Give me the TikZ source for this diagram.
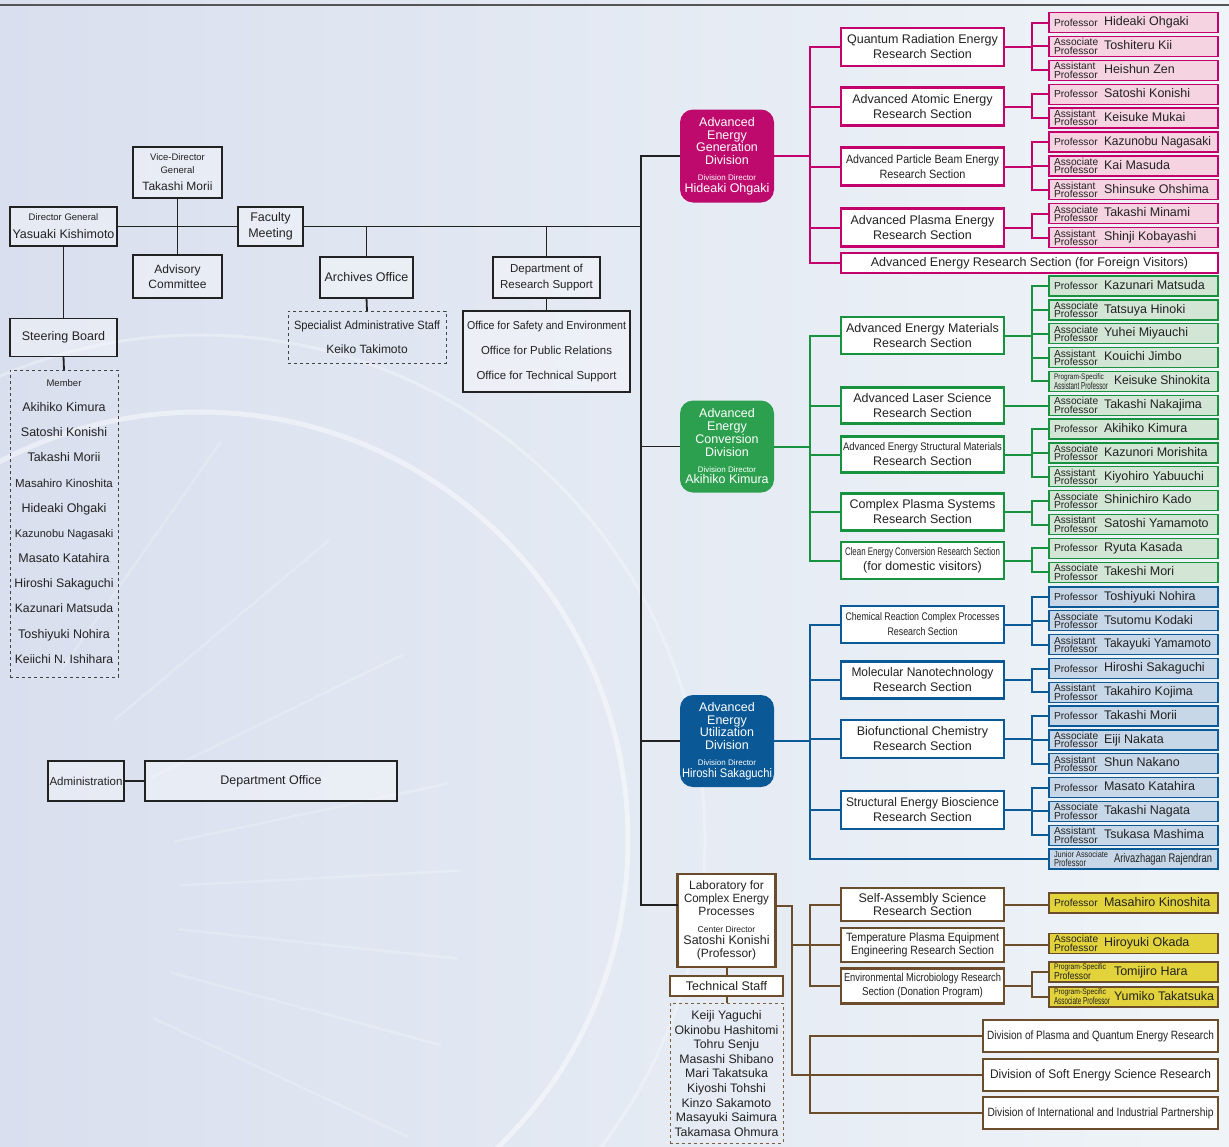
\documentclass[tikz,border=0pt]{standalone}
\usepackage{fontspec}
\setmainfont{Liberation Sans}
\usepackage{graphicx}
\usetikzlibrary{calc}
\newcommand\myfs[2]{\fontsize{#1}{#2}\selectfont}
\newcommand\sq[2]{\resizebox{#1pt}{\height}{#2}}
\definecolor{ink}{HTML}{222222}
\definecolor{mag}{HTML}{C4006C}
\definecolor{magdiv}{HTML}{BE0A6C}
\definecolor{magfill}{HTML}{F5D3E1}
\definecolor{grn}{HTML}{179340}
\definecolor{grndiv}{HTML}{2CA04E}
\definecolor{grnfill}{HTML}{D3E6D6}
\definecolor{blu}{HTML}{0B5A98}
\definecolor{bludiv}{HTML}{0A5896}
\definecolor{blufill}{HTML}{C8D7E8}
\definecolor{brn}{HTML}{6B4D2C}
\definecolor{yel}{HTML}{E2D23C}
\definecolor{bgl}{HTML}{D9DFEE}
\definecolor{bgm}{HTML}{E2E6F2}
\definecolor{bgr}{HTML}{EFF4F8}
\definecolor{topline}{HTML}{555555}
\newcommand\tProf{Professor}
\newcommand\tAssoc{Associate\\Professor}
\newcommand\tAsst{Assistant\\Professor}
\newcommand\tPSAsst{\myfs{8}{8}\sq{50}{Program-Specific}\\\sq{54}{Assistant Professor}}
\newcommand\tPSProf{\myfs{8}{8.5}\sq{52}{Program-Specific}\\\sq{37}{Professor}}
\newcommand\tPSAssoc{\myfs{8}{8.5}\sq{52}{Program-Specific}\\\sq{56}{Associate Professor}}
\newcommand\tJr{\myfs{8.5}{8.5}\sq{54}{Junior Associate}\\\sq{32}{Professor}}
\newcommand\pers[6]{%
  \node[#3] (#1) at (1049,#2) {};
  \node[ttl] (#1t) at (1054,#2) {#4};
  \node[nm] (#1n) at (#6,#2) {#5};}
\tikzset{
  every node/.style={inner sep=0pt, outer sep=0pt},
  lbox/.style={draw=ink, line width=1.8pt, fill=white, fill opacity=0.35, text opacity=1, align=center, text=ink, font=\myfs{12.5}{15}},
  dbox/.style={draw=ink!85, line width=1pt, dashed, align=center, text=ink},
  kln/.style={draw=ink, line width=1.8pt},
  mln/.style={draw=mag, line width=2pt},
  gln/.style={draw=grn, line width=2pt},
  bln/.style={draw=blu, line width=2pt},
  brln/.style={draw=brn, line width=2pt},
  sec/.style={draw=#1, line width=2.2pt, fill=white, minimum width=163pt, minimum height=37pt, align=center, text=ink, font=\myfs{12.5}{15}},
  divn/.style={fill=#1, rounded corners=13pt, minimum width=94pt, minimum height=92pt, align=center, text=white, font=\myfs{12.5}{12.8}},
  per/.style 2 args={draw=#1, fill=#2, line width=1.3pt, minimum width=169pt, minimum height=20pt, anchor=west},
  pm/.style={per={mag}{magfill}},
  pg/.style={per={grn}{grnfill}},
  pbl/.style={per={blu}{blufill}},
  pye/.style={per={brn}{yel}},
  ttl/.style={anchor=west, align=left, font=\myfs{10.2}{8.4}, text=ink},
  nm/.style={anchor=west, font=\myfs{12.5}{14}, text=ink, text height=9pt, text depth=2.6pt},
}
\begin{document}
\begin{tikzpicture}[x=1pt,y=-1pt]
\useasboundingbox (0,0) rectangle (1229,1146);
% background
\shade[left color=bgl, middle color=bgm, right color=bgr] (0,0) rectangle (1229,1146);
\begin{scope}
  \clip (0,0) rectangle (1229,1146);
  \coordinate (wc) at (200,840);
  \coordinate (sc) at (-100,900);
  \draw[white, opacity=0.45, line width=5pt] (wc) circle (428pt);
  \draw[white, opacity=0.3, line width=3pt] (wc) circle (505pt);
  \foreach \a in {-55,-40,-26,-12,-3,6,15,25}
    \draw[white, opacity=0.2, line width=2.5pt] ($(sc)+({280*cos(\a)},{280*sin(\a)})$) -- ($(sc)+({560*cos(\a)},{560*sin(\a)})$);
\end{scope}
\draw[line width=2pt, draw=topline] (0,5) -- (1229,5);

% ---------- left part ----------
\node[lbox, font=\myfs{9.5}{13}, minimum width=89pt, minimum height=51pt] (vdg) at (177.5,172.5) {Vice-Director\\General\\[4pt]{\myfs{12}{14}Takashi Morii}};
\node[lbox, font=\myfs{9.5}{13}, minimum width=107pt, minimum height=39pt] (dg) at (63.5,226.5) {Director General\\[5pt]{\myfs{12.5}{14}Yasuaki Kishimoto}};
\node[lbox, font=\myfs{12}{15}, minimum width=89pt, minimum height=43pt] (adv) at (177.5,276.5) {Advisory\\Committee};
\node[lbox, font=\myfs{12.5}{16}, minimum width=65pt, minimum height=39pt] (fm) at (270.5,226.5) {Faculty\\Meeting};
\node[lbox, minimum width=93pt, minimum height=41pt] (arch) at (366.5,277.5) {Archives Office};
\node[lbox, font=\myfs{11.5}{16}, minimum width=107pt, minimum height=41pt] (drs) at (546.5,277.5) {Department of\\Research Support};
\node[dbox, font=\myfs{12}{24}, minimum width=158pt, minimum height=52pt] (sasd) at (367,337) {\sq{146}{Specialist Administrative Staff}\\Keiko Takimoto};
\node[lbox, font=\myfs{11.5}{25}, minimum width=167pt, minimum height=81pt] (off) at (546.5,351.5) {\sq{159}{Office for Safety and Environment}\\\sq{131}{Office for Public Relations}\\\sq{140}{Office for Technical Support}};
\node[lbox, minimum width=107pt, minimum height=38pt] (sb) at (63.5,337.5) {Steering Board};
\node[dbox, minimum width=108pt, minimum height=307pt] (mem) at (64,523.5) {};
\node[anchor=base, font=\myfs{9.5}{12}, text=ink] (memt) at (64,386.4) {Member};
\foreach \y/\s/\n in {407/12.5/Akihiko Kimura, 432/12.5/Satoshi Konishi, 457/12.5/Takashi Morii, 483/11.5/Masahiro Kinoshita, 508/12.5/Hideaki Ohgaki, 533/11/Kazunobu Nagasaki, 558/12.5/Masato Katahira, 583/12.3/Hiroshi Sakaguchi, 608/12.2/Kazunari Matsuda, 634/12.5/Toshiyuki Nohira, 659/12.2/Keiichi N. Ishihara}
  \node[anchor=base, font=\myfs{\s}{14}, text=ink] (m\y) at (64,\y+4.6) {\n};
\node[lbox, font=\myfs{11.5}{14}, minimum width=76pt, minimum height=40pt] (admin) at (86,781) {Administration};
\node[lbox, font=\myfs{12.5}{14}, minimum width=252pt, minimum height=40pt] (dept) at (271,781) {Department Office};

% ---------- divisions ----------
\node[divn=magdiv, minimum height=93pt] (gen) at (727,156) {Advanced\\Energy\\Generation\\Division\\[3pt]{\myfs{8}{9}Division Director}\\[-1pt]Hideaki Ohgaki};
\node[divn=grndiv] (conv) at (727,446.5) {Advanced\\Energy\\Conversion\\Division\\[3pt]{\myfs{8}{9}Division Director}\\[-1pt]Akihiko Kimura};
\node[divn=bludiv] (util) at (727,741) {Advanced\\Energy\\Utilization\\Division\\[3pt]{\myfs{8}{9}Division Director}\\[-1pt]\sq{90}{Hiroshi Sakaguchi}};
\node[draw=brn, line width=2.2pt, fill=white, minimum width=98pt, minimum height=93pt, align=center, text=ink, font=\myfs{12}{13}] (lab) at (726.5,920.5) {Laboratory for\\\sq{85}{Complex Energy}\\Processes\\[4pt]{\myfs{8.5}{9}Center Director}\\[-1.5pt]{\myfs{12.5}{13}Satoshi Konishi}\\[0.5pt](Professor)};
\node[draw=brn, line width=2pt, fill=white, minimum width=113pt, minimum height=20pt, text=ink, font=\myfs{12.5}{14}] (ts) at (726.5,986) {Technical Staff};
\node[draw=brn!90, line width=1pt, dashed, minimum width=113pt, minimum height=140pt] (tsd) at (726.5,1073) {};
\node[anchor=north, align=center, font=\myfs{12.3}{14.6}, text=ink] (tsn) at (726.5,1010.5) {Keiji Yaguchi\\Okinobu Hashitomi\\Tohru Senju\\Masashi Shibano\\Mari Takatsuka\\Kiyoshi Tohshi\\Kinzo Sakamoto\\Masayuki Saimura\\Takamasa Ohmura};

% ---------- sections ----------
\node[sec=mag, minimum height=38pt] (qrs) at (922.5,47) {Quantum Radiation Energy\\Research Section};
\node[sec=mag, minimum height=38pt] (aae) at (922.5,106.5) {Advanced Atomic Energy\\Research Section};
\node[sec=mag, minimum height=38pt, font=\myfs{12}{15}] (apb) at (922.5,166.5) {\sq{153}{Advanced Particle Beam Energy}\\\sq{86}{Research Section}};
\node[sec=mag, minimum height=38pt] (ape) at (922.5,227.5) {Advanced Plasma Energy\\Research Section};
\node[sec=mag, minimum width=377pt, minimum height=20pt] (afv) at (1029.5,263) {Advanced Energy Research Section (for Foreign Visitors)};

\node[sec=grn] (aem) at (922.5,335.5) {Advanced Energy Materials\\Research Section};
\node[sec=grn, minimum height=36pt] (als) at (922.5,405.5) {Advanced Laser Science\\Research Section};
\node[sec=grn, minimum height=36pt] (aes) at (922.5,454.5) {{\myfs{11}{15}\sq{159}{Advanced Energy Structural Materials}}\\Research Section};
\node[sec=grn] (cps) at (922.5,512) {Complex Plasma Systems\\Research Section};
\node[sec=grn] (cec) at (922.5,560.5) {{\myfs{11}{15}\sq{155}{Clean Energy Conversion Research Section}}\\(for domestic visitors)};

\node[sec=blu, font=\myfs{11}{15}] (crc) at (922.5,624.5) {\sq{154}{Chemical Reaction Complex Processes}\\\sq{70}{Research Section}};
\node[sec=blu] (mnt) at (922.5,680) {\sq{142}{Molecular Nanotechnology}\\Research Section};
\node[sec=blu, minimum height=38pt] (bfc) at (922.5,739) {Biofunctional Chemistry\\Research Section};
\node[sec=blu, minimum height=38pt] (seb) at (922.5,810) {\sq{153}{Structural Energy Bioscience}\\Research Section};

\node[sec=brn, minimum height=33pt, font=\myfs{12.5}{13}] (sa) at (922.5,904.5) {Self-Assembly Science\\Research Section};
\node[sec=brn, minimum height=34pt, font=\myfs{12}{13}] (tpe) at (922.5,945) {\sq{153}{Temperature Plasma Equipment}\\\sq{143}{Engineering Research Section}};
\node[sec=brn, minimum height=35pt, font=\myfs{11.5}{14}] (emr) at (922.5,986) {\sq{157}{Environmental Microbiology Research}\\\sq{121}{Section (Donation Program)}};
\node[sec=brn, minimum width=235pt, minimum height=32pt, font=\myfs{12}{14}] (pqe) at (1100.5,1036) {\sq{227}{Division of Plasma and Quantum Energy Research}};
\node[sec=brn, minimum width=235pt, minimum height=32pt] (sof) at (1100.5,1075) {\sq{221}{Division of Soft Energy Science Research}};
\node[sec=brn, minimum width=235pt, minimum height=32pt, font=\myfs{12}{14}] (iip) at (1100.5,1113) {\sq{226}{Division of International and Industrial Partnership}};

% ---------- people ----------
\pers{ohg}{22.5}{pm}{\tProf}{Hideaki Ohgaki}{1104}
\pers{kii}{46.4}{pm}{\tAssoc}{Toshiteru Kii}{1104}
\pers{zen}{70.3}{pm}{\tAsst}{Heishun Zen}{1104}
\pers{kon}{94.2}{pm}{\tProf}{Satoshi Konishi}{1104}
\pers{muk}{118.1}{pm}{\tAsst}{Keisuke Mukai}{1104}
\pers{nag}{142}{pm}{\tProf}{\sq{107}{Kazunobu Nagasaki}}{1104}
\pers{mas}{165.9}{pm}{\tAssoc}{Kai Masuda}{1104}
\pers{ohs}{189.8}{pm}{\tAsst}{Shinsuke Ohshima}{1104}
\pers{mnm}{213.7}{pm}{\tAssoc}{Takashi Minami}{1104}
\pers{kob}{237.6}{pm}{\tAsst}{Shinji Kobayashi}{1104}

\pers{mat}{286}{pg}{\tProf}{Kazunari Matsuda}{1104}
\pers{hin}{309.85}{pg}{\tAssoc}{Tatsuya Hinoki}{1104}
\pers{miy}{333.7}{pg}{\tAssoc}{Yuhei Miyauchi}{1104}
\pers{jim}{357.55}{pg}{\tAsst}{Kouichi Jimbo}{1104}
\pers{shi}{381.4}{pg}{\tPSAsst}{\sq{96}{Keisuke Shinokita}}{1114}
\pers{nkj}{405.25}{pg}{\tAssoc}{Takashi Nakajima}{1104}
\pers{kim}{429.1}{pg}{\tProf}{Akihiko Kimura}{1104}
\pers{mor}{452.95}{pg}{\tAssoc}{Kazunori Morishita}{1104}
\pers{yab}{476.8}{pg}{\tAsst}{Kiyohiro Yabuuchi}{1104}
\pers{kad}{500.65}{pg}{\tAssoc}{Shinichiro Kado}{1104}
\pers{yam}{524.5}{pg}{\tAsst}{Satoshi Yamamoto}{1104}
\pers{kas}{548.35}{pg}{\tProf}{Ryuta Kasada}{1104}
\pers{tmo}{572.2}{pg}{\tAssoc}{Takeshi Mori}{1104}

\pers{noh}{597}{pbl}{\tProf}{Toshiyuki Nohira}{1104}
\pers{kod}{620.8}{pbl}{\tAssoc}{Tsutomu Kodaki}{1104}
\pers{tya}{644.6}{pbl}{\tAsst}{\sq{107}{Takayuki Yamamoto}}{1104}
\pers{sak}{668.5}{pbl}{\tProf}{Hiroshi Sakaguchi}{1104}
\pers{koj}{692.3}{pbl}{\tAsst}{Takahiro Kojima}{1104}
\pers{tmr}{716.1}{pbl}{\tProf}{Takashi Morii}{1104}
\pers{nkt}{739.9}{pbl}{\tAssoc}{Eiji Nakata}{1104}
\pers{nkn}{763.7}{pbl}{\tAsst}{Shun Nakano}{1104}
\pers{kat}{787.6}{pbl}{\tProf}{Masato Katahira}{1104}
\pers{ngt}{811.4}{pbl}{\tAssoc}{Takashi Nagata}{1104}
\pers{msh}{835.2}{pbl}{\tAsst}{Tsukasa Mashima}{1104}
\pers{raj}{859}{pbl}{\tJr}{\sq{98}{Arivazhagan Rajendran}}{1114}

\pers{kin}{903}{pye}{\tProf}{Masahiro Kinoshita}{1104}
\pers{oka}{943.5}{pye}{\tAssoc}{Hiroyuki Okada}{1104}
\pers{har}{972}{pye}{\tPSProf}{Tomijiro Hara}{1114}
\pers{tak}{997}{pye}{\tPSAssoc}{\sq{100}{Yumiko Takatsuka}}{1114}

% ---------- coordinates for bars ----------
\coordinate (tk) at (641,0);
\coordinate (bm) at (810,0);
\coordinate (bp) at (1032,0);
\coordinate (b2) at (792,0);
\coordinate (labin) at ($(lab.north west)+(0,31)$);
\coordinate (labr) at ($(lab.north east)+(0,32)$);

% ---------- black connectors ----------
\draw[kln] (dg.east) -- (fm.west);
\draw[kln] (fm.east) -| (tk |- gen.west) -- (gen.west);
\draw[kln] (tk |- gen.west) |- (conv.west);
\draw[kln] (tk |- gen.west) |- (util.west);
\draw[kln] (tk |- gen.west) |- (labin);
\draw[kln] (vdg.south) -- (adv.north);
\draw[kln] (arch.north |- fm.east) -- (arch.north);
\draw[kln] (drs.north |- fm.east) -- (drs.north);
\draw[kln] (arch.south) -- (sasd.north);
\draw[kln] (drs.south) -- (off.north);
\draw[kln] (dg.south) -- (sb.north);
\draw[kln] (sb.south) -- (mem.north);
\draw[kln] (admin.east) -- (dept.west);

% ---------- magenta ----------
\foreach \s in {qrs,aae,apb,ape,afv} \draw[mln] (gen.east) -- (gen.east -| bm) |- (\s.west);
\foreach \p in {ohg,kii,zen} \draw[mln] (qrs.east) -- (qrs.east -| bp) |- (\p.west);
\foreach \p in {kon,muk} \draw[mln] (aae.east) -- (aae.east -| bp) |- (\p.west);
\foreach \p in {nag,mas,ohs} \draw[mln] (apb.east) -- (apb.east -| bp) |- (\p.west);
\foreach \p in {mnm,kob} \draw[mln] (ape.east) -- (ape.east -| bp) |- (\p.west);

% ---------- green ----------
\foreach \s in {aem,als,aes,cps,cec} \draw[gln] (conv.east) -- (conv.east -| bm) |- (\s.west);
\foreach \p in {mat,hin,miy,jim,shi} \draw[gln] (aem.east) -- (aem.east -| bp) |- (\p.west);
\draw[gln] (als.east) -- (als.east -| nkj.west);
\foreach \p in {kim,mor,yab} \draw[gln] (aes.east) -- (aes.east -| bp) |- (\p.west);
\foreach \p in {kad,yam} \draw[gln] (cps.east) -- (cps.east -| bp) |- (\p.west);
\foreach \p in {kas,tmo} \draw[gln] (cec.east) -- (cec.east -| bp) |- (\p.west);

% ---------- blue ----------
\foreach \s in {crc,mnt,bfc,seb,raj} \draw[bln] (util.east) -- (util.east -| bm) |- (\s.west);
\foreach \p in {noh,kod,tya} \draw[bln] (crc.east) -- (crc.east -| bp) |- (\p.west);
\foreach \p in {sak,koj} \draw[bln] (mnt.east) -- (mnt.east -| bp) |- (\p.west);
\foreach \p in {tmr,nkt,nkn} \draw[bln] (bfc.east) -- (bfc.east -| bp) |- (\p.west);
\foreach \p in {kat,ngt,msh} \draw[bln] (seb.east) -- (seb.east -| bp) |- (\p.west);

% ---------- brown ----------
\draw[brln] (labr) -- (labr -| b2) |- (sof.west);
\draw[brln] (b2 |- tpe.west) -- (tpe.west);
\draw[brln] (sa.west) -- (sa.west -| bm) |- (emr.west);
\draw[brln] (pqe.west) -- (pqe.west -| bm) |- (iip.west);
\draw[brln] (sa.east) -- (sa.east -| kin.west);
\draw[brln] (tpe.east) -- (tpe.east -| oka.west);
\foreach \p in {har,tak} \draw[brln] (emr.east) -- (emr.east -| bp) |- (\p.west);
\draw[brln] (lab.south) -- (ts.north);
\draw[brln] (ts.south) -- (tsd.north);
\end{tikzpicture}
\end{document}
